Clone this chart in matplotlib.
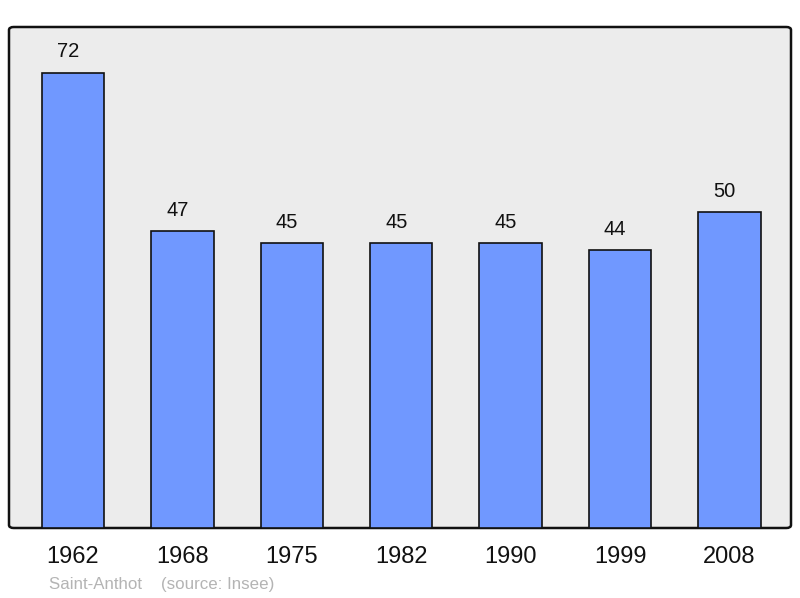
import matplotlib
matplotlib.use("Agg")
import matplotlib.pyplot as plt
from matplotlib.patches import FancyBboxPatch

years = ["1962", "1968", "1975", "1982", "1990", "1999", "2008"]
population = [72, 47, 45, 45, 45, 44, 50]
commune = "Saint-Anthot"
source = "(source: Insee)"

plt.rcParams['font.family'] = ['Liberation Sans', 'DejaVu Sans']

fig = plt.figure(figsize=(8, 5.98), dpi=100)
ax = fig.add_axes([9/800, 70/598, 782/800, 501/598])
ax.set_facecolor('none')

x = list(range(len(years)))
bars = ax.bar(x, population, width=0.57, color='#7098ff', edgecolor='#111111',
              linewidth=1.2, zorder=3)
ax.set_xlim(-0.585, 6.563)
ax.set_ylim(0, max(population) * 1.1)

frame = FancyBboxPatch((0, 0), 1, 1, boxstyle="round,pad=0,rounding_size=0.006",
                       transform=ax.transAxes, facecolor='#ececec',
                       edgecolor='#111111', linewidth=1.8, zorder=0, clip_on=False)
ax.add_patch(frame)
for s in ax.spines.values():
    s.set_visible(False)

for xi, v in zip(x, population):
    ax.annotate(str(v), (xi, v), xytext=(-3.5, 14.8), textcoords='offset points',
                ha='center', va='center', fontsize=14.5, color='#111111')

ax.set_xticks(x)
ax.set_xticklabels(years, fontsize=17, color='#111111')
ax.tick_params(axis='x', length=0, pad=13)
ax.set_yticks([])

fig.text(49/800, 1 - 584/598, commune + "    " + source, fontsize=12.2,
         color='#b4b4b4', ha='left', va='center')

fig.savefig('out.png', dpi=100)
